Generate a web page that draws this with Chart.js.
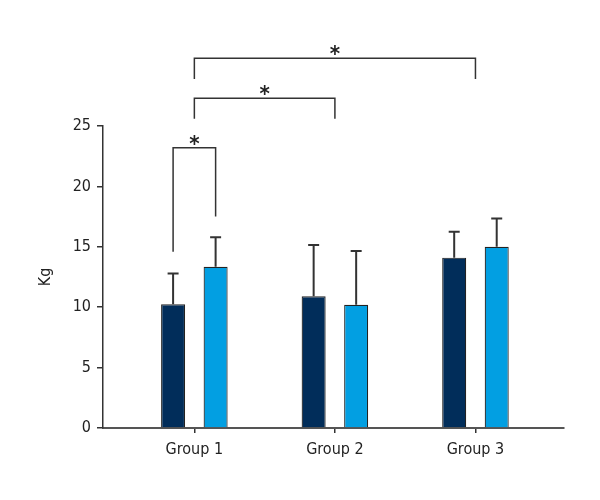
<!DOCTYPE html>
<html lang="en">
<head>
  <meta charset="UTF-8" />
  <title>Kg by group</title>
  <script src="https://cdn.jsdelivr.net/npm/chart.js"></script>
  <style>
    body { margin: 0; background: #fff; }
    canvas { display: block; }
  </style>
</head>
<body>
  <canvas id="kgChart" width="600" height="500"></canvas>

  <script>
    // data
    const groups = ['Group 1', 'Group 2', 'Group 3'];
    const darkMeans = [10.25, 10.9, 14.1];
    const darkErr = [12.8, 15.15, 16.25];
    const lightMeans = [13.35, 10.2, 15.0];
    const lightErr = [15.8, 14.65, 17.35];
    const yTicks = [0, 5, 10, 15, 20, 25];

    // significance brackets: ends are [group, bar] (bar null = group centre), levels in Kg
    const brackets = [
      { from: [0, 0], to: [0, 1], top: 23.2, legs: [14.6, 17.5], mark: '*' },
      { from: [0, null], to: [1, null], top: 27.3, legs: [25.6, 25.6], mark: '*' },
      { from: [0, null], to: [2, null], top: 30.6, legs: [28.9, 28.9], mark: '*' }
    ];

    const FONT = "'DejaVu Sans', sans-serif";
    const INK = '#333';
    // condensed face, passed through the weight slot of the font string
    const tickFont = { family: FONT, size: 16, weight: 'normal condensed' };

    // upward error bars
    const errorBars = {
      id: 'errorBars',
      afterDatasetsDraw(chart) {
        const ctx = chart.ctx;
        const y = chart.scales.y;
        [darkErr, lightErr].forEach((errs, d) => {
          chart.getDatasetMeta(d).data.forEach((bar, i) => {
            const top = y.getPixelForValue(errs[i]);
            ctx.save();
            ctx.strokeStyle = INK;
            ctx.lineWidth = 2;
            ctx.beginPath();
            ctx.moveTo(bar.x, bar.y);
            ctx.lineTo(bar.x, top);
            ctx.moveTo(bar.x - 5.5, top);
            ctx.lineTo(bar.x + 5.5, top);
            ctx.stroke();
            ctx.restore();
          });
        });
      }
    };

    // brackets with stars above the plot
    const sigBrackets = {
      id: 'sigBrackets',
      afterDraw(chart) {
        const ctx = chart.ctx;
        const x = chart.scales.x;
        const y = chart.scales.y;
        const endX = ([g, b]) => b === null
          ? x.getPixelForValue(g + 1)
          : chart.getDatasetMeta(b).data[g].x;
        brackets.forEach(br => {
          const x1 = endX(br.from), x2 = endX(br.to);
          const top = y.getPixelForValue(br.top);
          ctx.save();
          ctx.strokeStyle = INK;
          ctx.lineWidth = 1.5;
          ctx.beginPath();
          ctx.moveTo(x1, y.getPixelForValue(br.legs[0]));
          ctx.lineTo(x1, top);
          ctx.lineTo(x2, top);
          ctx.lineTo(x2, y.getPixelForValue(br.legs[1]));
          ctx.stroke();
          ctx.fillStyle = '#222';
          ctx.font = 'bold condensed 22px ' + FONT;
          ctx.textAlign = 'center';
          ctx.textBaseline = 'alphabetic';
          ctx.fillText(br.mark, (x1 + x2) / 2, top + 3);
          ctx.restore();
        });
      }
    };

    const ctx = document.getElementById('kgChart').getContext('2d');
    new Chart(ctx, {
      type: 'bar',
      data: {
        datasets: [
          {
            label: 'A',
            data: darkMeans.map((v, i) => ({ x: i + 1, y: v })),
            backgroundColor: '#012d5a',
            borderColor: '#222',
            borderWidth: 1.2
          },
          {
            label: 'B',
            data: lightMeans.map((v, i) => ({ x: i + 1, y: v })),
            backgroundColor: '#029fe2',
            borderColor: '#222',
            borderWidth: 1.2
          }
        ]
      },
      options: {
        responsive: false,
        animation: false,
        barPercentage: 0.565,
        categoryPercentage: 0.605,
        layout: { padding: { top: 126, right: 36, left: 0, bottom: 0 } },
        plugins: {
          legend: { display: false },
          tooltip: { enabled: false }
        },
        scales: {
          x: {
            type: 'linear',
            offset: false,
            min: 0.35,
            max: 3.63,
            afterBuildTicks: s => { s.ticks = groups.map((g, i) => ({ value: i + 1 })); },
            afterFit: s => { s.height = 72; },
            ticks: {
              callback: v => groups[v - 1],
              color: '#222',
              padding: 7,
              maxRotation: 0,
              font: tickFont
            },
            grid: { offset: false, drawOnChartArea: false, drawTicks: true, tickLength: 5, color: INK, lineWidth: 1.5 },
            border: { color: '#555', width: 2 }
          },
          y: {
            min: 0,
            max: 25,
            afterBuildTicks: s => { s.ticks = yTicks.map(v => ({ value: v })); },
            afterFit: s => { s.width = 103; },
            ticks: {
              color: '#222',
              padding: 6,
              font: tickFont
            },
            grid: { drawOnChartArea: false, drawTicks: true, tickLength: 6, color: INK, lineWidth: 1.5 },
            border: { color: INK, width: 1.5 },
            title: {
              display: true,
              text: 'Kg',
              color: '#222',
              padding: { top: 36, bottom: 0 },
              font: tickFont
            }
          }
        }
      },
      plugins: [errorBars, sigBrackets]
    });
  </script>
</body>
</html>
